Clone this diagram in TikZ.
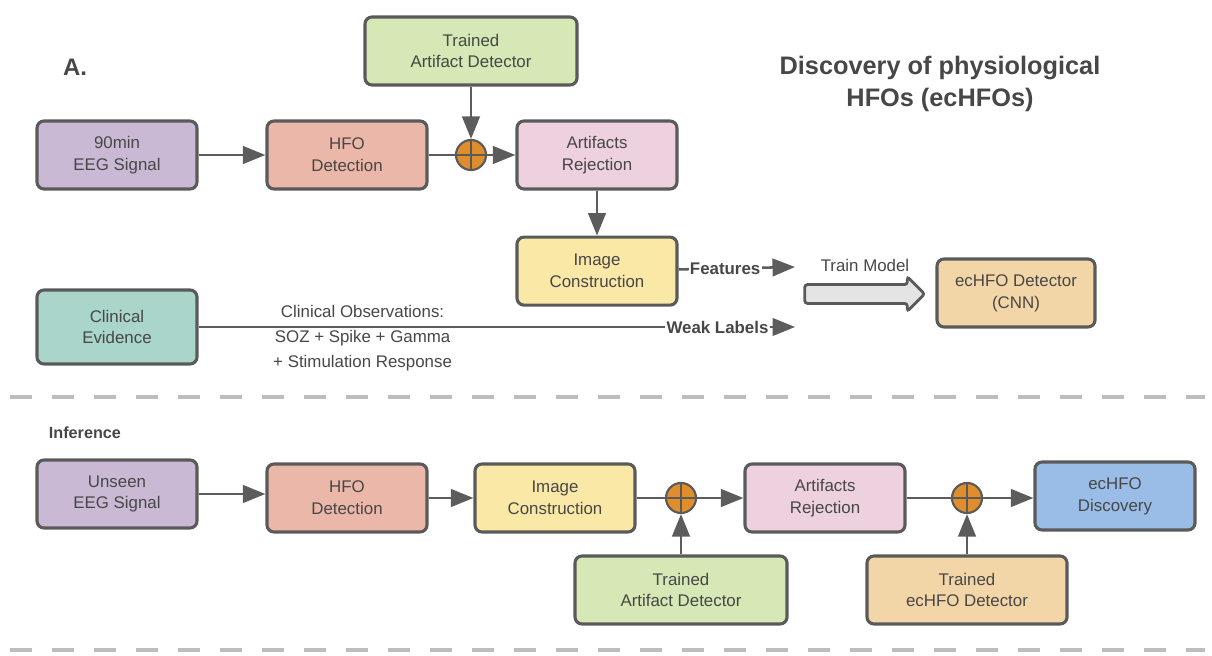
\documentclass[tikz,border=0pt]{standalone}
\usepackage{fontspec}
\setmainfont{Liberation Sans}
\usetikzlibrary{arrows.meta,positioning,shapes.arrows}
\definecolor{boxline}{HTML}{5A5A5A}
\definecolor{txtgray}{HTML}{474747}
\definecolor{arrgray}{HTML}{5C5C5C}
\definecolor{dashgray}{HTML}{BDBDBD}
\definecolor{cPurple}{HTML}{CAB9D5}
\definecolor{cSalmon}{HTML}{EBB7A9}
\definecolor{cPink}{HTML}{EDD1DF}
\definecolor{cYellow}{HTML}{FAE8A7}
\definecolor{cGreen}{HTML}{D5E8B5}
\definecolor{cTeal}{HTML}{A9D5CA}
\definecolor{cTan}{HTML}{F3D6A8}
\definecolor{cBlue}{HTML}{99BDE6}
\definecolor{cOrange}{HTML}{E08D2B}
\definecolor{cHollow}{HTML}{E4E4E4}
\newcommand{\boxfont}{\fontsize{12}{15.5}\selectfont}
\tikzset{
  procbox/.style={draw=boxline, line width=2.2pt, rounded corners=5pt, align=center,
    minimum width=4cm, minimum height=1.7cm, font=\boxfont, text=txtgray},
  purplebox/.style={procbox, fill=cPurple},
  salmonbox/.style={procbox, fill=cSalmon},
  pinkbox/.style={procbox, fill=cPink},
  yellowbox/.style={procbox, fill=cYellow},
  greenbox/.style={procbox, fill=cGreen, minimum width=5.3cm},
  tealbox/.style={procbox, fill=cTeal},
  tanbox/.style={procbox, fill=cTan},
  bluebox/.style={procbox, fill=cBlue},
  arr/.style={-{Triangle[length=16pt,width=12.5pt]}, line width=1.8pt, draw=arrgray},
  link/.style={line width=1.8pt, draw=arrgray},
  sumnode/.style={circle, draw=boxline, line width=1.5pt, fill=cOrange,
    minimum size=0.75cm, inner sep=0pt,
    path picture={\draw[boxline, line width=1.2pt]
      (path picture bounding box.north) -- (path picture bounding box.south)
      (path picture bounding box.west) -- (path picture bounding box.east);}},
  edgetext/.style={font=\boxfont\bfseries, text=txtgray, fill=white, inner sep=1pt},
  divider/.style={dashgray, line width=3.5pt, dash pattern=on 0.55cm off 0.5cm}
}
\begin{document}
\begin{tikzpicture}[x=0.025cm, y=-0.025cm]
  \useasboundingbox (0,0) rectangle (1212,656);

  % training part
  \node[font=\fontsize{17}{20}\selectfont\bfseries, text=txtgray] (lblA) at (75,67) {A.};
  \node[font=\fontsize{18}{22.7}\selectfont\bfseries, text=txtgray, align=center] (title) at (940,84)
    {Discovery of physiological\\HFOs (ecHFOs)};

  \node[purplebox] (eeg) at (117,155) {90min\\EEG Signal};
  \node[salmonbox] (hfo) at (347,155) {HFO\\Detection};
  \node[sumnode] (sumA) at (471,155) {};
  \node[greenbox] (artdet) at (471,51) {Trained\\Artifact Detector};
  \node[pinkbox] (artrej) at (597,155) {Artifacts\\Rejection};
  \node[yellowbox, below=1.125cm of artrej] (imgc) {Image\\Construction};
  \node[tealbox, minimum height=1.85cm] (clin) at (117,327) {Clinical\\Evidence};
  \node[tanbox, minimum width=3.95cm] (cnn) at (1016,293) {ecHFO Detector\\(CNN)};
  \node[single arrow, draw=boxline, fill=cHollow, line width=2pt, rounded corners=2pt,
    minimum height=3cm, inner sep=0.2cm, single arrow head extend=0.2cm] (trainarr) at (860,294) {};
  \node[font=\boxfont, text=txtgray] (trainlbl) at (865,265) {Train Model};
  \coordinate (featend) at (795,267);
  \coordinate (weakend) at (795,327);

  \draw[arr] (eeg) -- (hfo);
  \draw[link] (hfo) -- (sumA);
  \draw[arr] (artdet) -- (sumA);
  \draw[arr] (sumA) -- (artrej);
  \draw[arr] (artrej) -- (imgc);
  \draw[arr] (imgc) -- node[edgetext, pos=0.4] {Features} (featend);
  \draw[arr] (clin.east) -- node[edgetext, pos=0.87] {Weak Labels}
    node[pos=0.275, yshift=-0.28cm, font=\fontsize{12}{17.8}\selectfont, text=txtgray, align=center]
    {Clinical Observations:\\SOZ + Spike + Gamma\\+ Stimulation Response} (weakend);

  \draw[divider] (10,397) -- (1205,397);

  % inference part
  \node[font=\fontsize{11.5}{13}\selectfont\bfseries, text=txtgray, anchor=west] (infer) at (44,433) {Inference};

  \node[purplebox] (unseen) at (117,494) {Unseen\\EEG Signal};
  \node[salmonbox] (hfoB) at (347,498) {HFO\\Detection};
  \node[yellowbox] (imgcB) at (555,498) {Image\\Construction};
  \node[sumnode] (sumB) at (681,498) {};
  \node[pinkbox] (artrejB) at (825,498) {Artifacts\\Rejection};
  \node[sumnode] (sumC) at (967,498) {};
  \node[bluebox] (disc) at (1115,496) {ecHFO\\Discovery};
  \node[greenbox] (artdetB) at (681,590) {Trained\\Artifact Detector};
  \node[tanbox, minimum width=5cm] (echdet) at (967,590) {Trained\\ecHFO Detector};

  \draw[arr] (unseen) -- (unseen -| hfoB.west);
  \draw[arr] (hfoB) -- (imgcB);
  \draw[link] (imgcB) -- (sumB);
  \draw[arr] (artdetB) -- (sumB);
  \draw[arr] (sumB) -- (artrejB);
  \draw[link] (artrejB) -- (sumC);
  \draw[arr] (echdet) -- (sumC);
  \draw[arr] (sumC) -- (sumC -| disc.west);

  \draw[divider] (10,650) -- (1205,650);
\end{tikzpicture}
\end{document}
